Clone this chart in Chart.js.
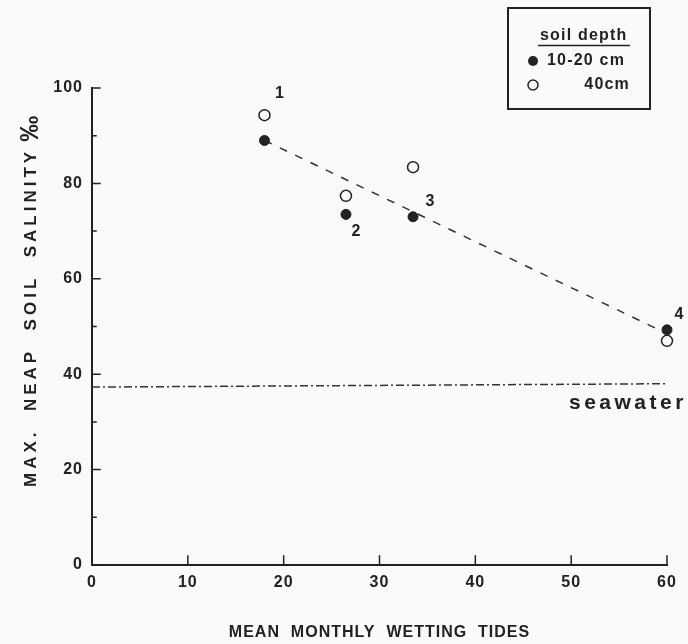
<!DOCTYPE html>
<html><head><meta charset="utf-8">
<script src="https://cdn.jsdelivr.net/npm/chart.js@4"></script>
<style>html,body{margin:0;padding:0;background:#fafafa}#wrap{width:688px;height:644px}</style>
</head><body><div id="wrap"><canvas id="c" width="688" height="644"></canvas></div>
<script>
// ---- data ----
const siteLabels = ['1', '2', '3', '4'];
const wettingTides = [18, 26.5, 33.5, 60];
const salinity10to20 = [89, 73.5, 73, 49.3];
const salinity40 = [94.3, 77.4, 83.4, 47];
const trendX = [18, 60];
const trendY = [89, 48.5];
const seawaterX = [0, 60];
const seawaterY = [37.3, 38.0];
const xTicks = [0, 10, 20, 30, 40, 50, 60];
const yTicks = [0, 20, 40, 60, 80, 100];
const yMinorTicks = [10, 30, 50, 70, 90];
const seriesNames = ['10-20 cm', '40cm'];
const legendTitle = 'soil depth';
const seawaterLabel = 'seawater';
const xTitle = 'MEAN  MONTHLY  WETTING  TIDES';
const yTitle = 'MAX.  NEAP  SOIL  SALINITY';
const yUnit = '‰';

const INK = '#222';
const FONT = "'Liberation Sans', Arial, sans-serif";

const toPts = (xs, ys) => xs.map((x, i) => ({x, y: ys[i]}));

// label offsets (px) for site numbers, relative to the reference point
const siteLabelOffsets = [[15, -22, 1], [10, 17, 0], [17, -15, 0], [12, -15, 0]];

const customPlugin = {
  id: 'custom',
  beforeDraw(chart) {
    const ctx = chart.ctx;
    ctx.save();
    ctx.fillStyle = '#fafafa';
    ctx.fillRect(0, 0, chart.width, chart.height);
    ctx.restore();
    ctx.letterSpacing = '1px';
  },
  beforeDatasetsDraw(chart) {
    const {ctx, scales: {x, y}} = chart;
    ctx.save();
    ctx.strokeStyle = INK;
    ctx.lineWidth = 2;
    ctx.lineCap = 'square';
    const x0 = x.getPixelForValue(0), y0 = y.getPixelForValue(0);
    ctx.beginPath();
    ctx.moveTo(x0, y.getPixelForValue(100));
    ctx.lineTo(x0, y0);
    ctx.lineTo(x.getPixelForValue(60), y0);
    ctx.stroke();
    ctx.lineWidth = 1.5;
    ctx.beginPath();
    yTicks.forEach(v => { const p = y.getPixelForValue(v); ctx.moveTo(x0, p); ctx.lineTo(x0 + 8, p); });
    yMinorTicks.forEach(v => { const p = y.getPixelForValue(v); ctx.moveTo(x0, p); ctx.lineTo(x0 + 4, p); });
    xTicks.forEach(v => { if (v === 0) return; const p = x.getPixelForValue(v); ctx.moveTo(p, y0); ctx.lineTo(p, y0 - 9); });
    ctx.stroke();
    ctx.restore();
  },
  afterDraw(chart) {
    const {ctx, scales: {x, y}} = chart;
    ctx.save();
    ctx.fillStyle = INK;
    ctx.textBaseline = 'middle';
    // y-axis title
    ctx.save();
    ctx.font = 'bold 17px ' + FONT;
    ctx.letterSpacing = '4px';
    ctx.translate(31, 487);
    ctx.rotate(-Math.PI / 2);
    ctx.textAlign = 'left';
    ctx.fillText(yTitle, 0, 0);
    const w = ctx.measureText(yTitle).width;
    ctx.font = 'bold 26px ' + FONT;
    ctx.letterSpacing = '0px';
    ctx.fillText(yUnit, w + 6, 0);
    ctx.restore();
    // site numbers
    ctx.font = 'bold 16px ' + FONT;
    ctx.letterSpacing = '0px';
    ctx.textAlign = 'center';
    siteLabels.forEach((s, i) => {
      const [dx, dy, ref] = siteLabelOffsets[i];
      const yy = ref === 1 ? salinity40[i] : salinity10to20[i];
      ctx.fillText(s, x.getPixelForValue(wettingTides[i]) + dx, y.getPixelForValue(yy) + dy);
    });
    // seawater label
    ctx.font = 'bold 21px ' + FONT;
    ctx.letterSpacing = '3.5px';
    ctx.textAlign = 'left';
    ctx.fillText(seawaterLabel, 569, 403);
    // legend
    ctx.strokeStyle = INK;
    ctx.lineWidth = 2;
    ctx.strokeRect(508, 8, 142, 101);
    ctx.font = 'bold 16px ' + FONT;
    ctx.letterSpacing = '1.2px';
    ctx.textAlign = 'left';
    ctx.fillText(legendTitle, 540, 36);
    ctx.lineWidth = 1.5;
    ctx.beginPath(); ctx.moveTo(538, 45.5); ctx.lineTo(630, 45.5); ctx.stroke();
    const ds = chart.data.datasets;
    ctx.beginPath(); ctx.arc(533, 61, 5, 0, Math.PI * 2);
    ctx.fillStyle = ds[0].backgroundColor; ctx.fill();
    ctx.fillStyle = INK;
    ctx.fillText(ds[0].label, 547, 61);
    ctx.beginPath(); ctx.arc(533, 85, 5, 0, Math.PI * 2);
    ctx.fillStyle = ds[1].backgroundColor; ctx.fill();
    ctx.lineWidth = 1.5; ctx.strokeStyle = ds[1].borderColor; ctx.stroke();
    ctx.fillStyle = INK;
    ctx.textAlign = 'right';
    ctx.fillText(ds[1].label, 630, 85);
    ctx.restore();
  }
};

new Chart(document.getElementById('c'), {
  type: 'scatter',
  data: {
    datasets: [
      {label: seriesNames[0], data: toPts(wettingTides, salinity10to20), backgroundColor: INK, borderColor: INK, pointRadius: 5, pointBorderWidth: 1, clip: false},
      {label: seriesNames[1], data: toPts(wettingTides, salinity40), backgroundColor: '#fafafa', borderColor: INK, pointRadius: 5.5, pointBorderWidth: 1.5, clip: false},
      {label: 'trend', type: 'line', data: toPts(trendX, trendY), borderColor: '#333', borderWidth: 1.5, borderDash: [8, 9], pointRadius: 0, fill: false, clip: false},
      {label: 'seawater', type: 'line', data: toPts(seawaterX, seawaterY), borderColor: '#333', borderWidth: 1.5, borderDash: [8, 3, 2, 3], pointRadius: 0, fill: false, clip: false}
    ]
  },
  options: {
    responsive: false,
    animation: false,
    devicePixelRatio: 1,
    layout: {padding: {top: 88, right: 21, left: 0, bottom: 0}},
    plugins: {legend: {display: false}, tooltip: {enabled: false}},
    scales: {
      x: {
        type: 'linear', min: 0, max: 60,
        grid: {display: false, drawTicks: false},
        border: {display: false},
        afterFit: s => { s.height = 79; },
        afterBuildTicks: s => { s.ticks = xTicks.map(v => ({value: v})); },
        ticks: {color: INK, font: {family: FONT, size: 16, weight: 'bold'}, padding: 8, maxRotation: 0},
        title: {display: true, text: xTitle, color: INK, font: {family: FONT, size: 16, weight: 'bold'}, padding: {top: 0, bottom: 2}}
      },
      y: {
        type: 'linear', min: 0, max: 100,
        grid: {display: false, drawTicks: false},
        border: {display: false},
        afterFit: s => { s.width = 92; },
        afterBuildTicks: s => { s.ticks = yTicks.map(v => ({value: v})); },
        ticks: {color: INK, font: {family: FONT, size: 16, weight: 'bold'}, padding: 9},
        title: {display: false}
      }
    }
  },
  plugins: [customPlugin]
});
</script>
</body></html>
